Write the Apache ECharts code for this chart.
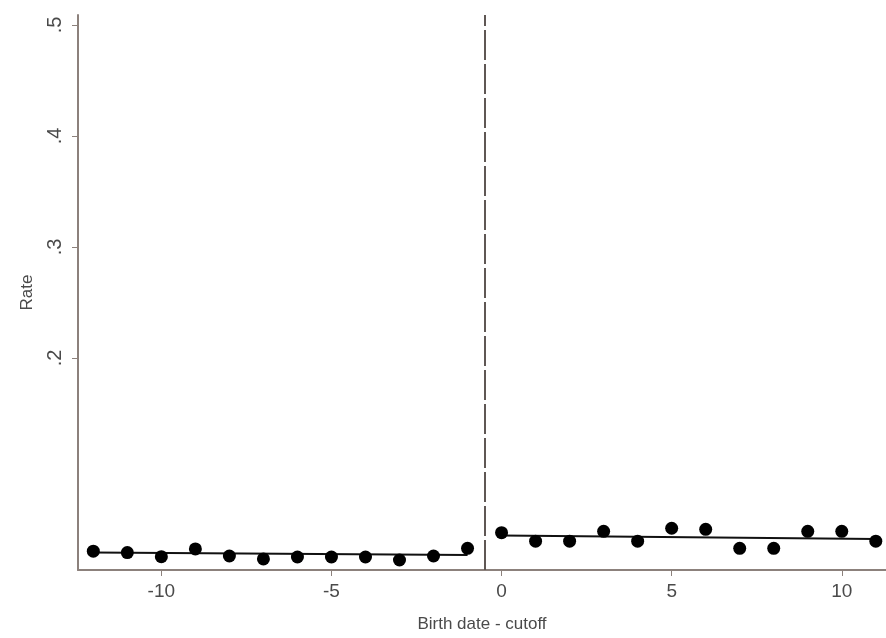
<!DOCTYPE html>
<html>
<head>
<meta charset="utf-8">
<script src="https://cdn.jsdelivr.net/npm/echarts@6/dist/echarts.min.js"></script>
<style>
  html, body { margin: 0; padding: 0; background: #fff; }
  #chart { width: 886px; height: 638px; }
</style>
</head>
<body>
<div id="chart"></div>
<script>
// binned means
const leftX = [-12, -11, -10, -9, -8, -7, -6, -5, -4, -3, -2, -1];
const leftRate = [0.026, 0.0247, 0.021, 0.028, 0.0216, 0.019, 0.0207, 0.0207, 0.0207, 0.018, 0.0216, 0.0285];
const rightX = [0, 1, 2, 3, 4, 5, 6, 7, 8, 9, 10, 11];
const rightRate = [0.0426, 0.035, 0.035, 0.0438, 0.035, 0.0466, 0.0456, 0.0285, 0.0285, 0.0438, 0.0438, 0.035];
// fitted lines each side
const leftFitX = [-12, -1];
const leftFitY = [0.0247, 0.0225];
const rightFitX = [0, 11];
const rightFitY = [0.040, 0.037];
const cutoff = -0.5;
const xTicks = [-10, -5, 0, 5, 10];
const yTicks = [0.2, 0.3, 0.4, 0.5];

const pairs = (xs, ys) => xs.map((x, i) => [x, ys[i]]);
const axisCol = '#8c817c';
const textCol = '#4a4a4a';

const chart = echarts.init(document.getElementById('chart'), null, { renderer: 'canvas' });
chart.setOption({
  backgroundColor: '#fff',
  animation: false,
  grid: { left: 78, right: 0, top: 15, bottom: 68 },
  xAxis: {
    type: 'value',
    min: -12.45,
    max: 11.3,
    name: 'Birth date - cutoff',
    nameLocation: 'middle',
    nameGap: 46,
    nameTextStyle: { color: textCol, fontSize: 17, fontFamily: 'Liberation Sans' },
    splitLine: { show: false },
    axisLine: { onZero: false, lineStyle: { color: axisCol, width: 2 } },
    axisTick: { customValues: xTicks, length: 6, lineStyle: { color: axisCol } },
    axisLabel: {
      customValues: xTicks,
      color: textCol, fontSize: 19, fontFamily: 'Liberation Sans', margin: 12
    }
  },
  yAxis: {
    type: 'value',
    min: 0.009,
    max: 0.509,
    name: 'Rate',
    nameLocation: 'middle',
    nameGap: 42,
    nameRotate: 90,
    nameTextStyle: { color: textCol, fontSize: 17, fontFamily: 'Liberation Sans' },
    splitLine: { show: false },
    axisLine: { show: true, onZero: false, lineStyle: { color: axisCol, width: 2 } },
    axisTick: { show: true, customValues: yTicks, length: 6, lineStyle: { color: axisCol } },
    axisLabel: {
      customValues: yTicks,
      rotate: 90,
      color: textCol, fontSize: 20, fontFamily: 'Liberation Sans', margin: 13,
      formatter: v => String(Math.round(v * 10) / 10).replace(/^0/, '')
    }
  },
  series: [
    {
      type: 'line', data: pairs(leftFitX, leftFitY), symbol: 'none',
      lineStyle: { color: '#111', width: 2 }, z: 2,
      markLine: {
        silent: true, symbol: 'none', label: { show: false },
        lineStyle: { color: '#5f5754', type: [30, 4], width: 2 },
        data: [{ xAxis: cutoff }]
      }
    },
    {
      type: 'line', data: pairs(rightFitX, rightFitY), symbol: 'none',
      lineStyle: { color: '#111', width: 2 }, z: 2
    },
    {
      type: 'scatter', data: pairs(leftX, leftRate), symbolSize: 13,
      itemStyle: { color: '#000', opacity: 1 }, z: 3
    },
    {
      type: 'scatter', data: pairs(rightX, rightRate), symbolSize: 13,
      itemStyle: { color: '#000', opacity: 1 }, z: 3
    }
  ]
});
</script>
</body>
</html>
